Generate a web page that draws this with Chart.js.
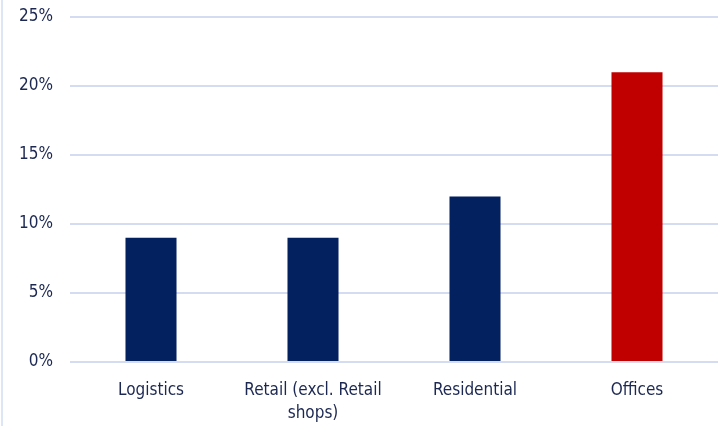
<!DOCTYPE html>
<html>
<head>
<meta charset="utf-8">
<script src="https://cdn.jsdelivr.net/npm/chart.js@4/dist/chart.umd.min.js"></script>
<style>
  html, body { margin: 0; padding: 0; background: #fff; }
  #wrap { position: relative; width: 724px; height: 426px; }
  #edge { position: absolute; left: 1px; top: 0; width: 2px; height: 426px; background: #dde6f4; }
</style>
</head>
<body>
<div id="wrap">
  <div id="edge"></div>
  <canvas id="sectorChart" width="724" height="426"></canvas>
</div>
<script>
var sectors = ['Logistics', ['Retail (excl. Retail', 'shops)'], 'Residential', 'Offices'];
var shares = [9, 9, 12, 21];
var barColors = ['#03215e', '#03215e', '#03215e', '#c00000'];
var yTicks = [0, 5, 10, 15, 20, 25];

var textColor = '#1c2852';
var gridColor = '#d5dbf1';
var labelFont = "'DejaVu Sans Condensed', 'Roboto Condensed', Roboto, sans-serif";

var ctx = document.getElementById('sectorChart').getContext('2d');
var sectorChart = new Chart(ctx, {
  type: 'bar',
  data: {
    labels: sectors,
    datasets: [{
      data: shares,
      backgroundColor: barColors,
      borderWidth: 0,
      categoryPercentage: 1,
      barPercentage: 0.315
    }]
  },
  options: {
    responsive: false,
    animation: false,
    layout: { padding: { left: 4, right: 6, top: 17, bottom: 2 } },
    plugins: { legend: { display: false }, tooltip: { enabled: false } },
    scales: {
      x: {
        afterFit: function (scale) {
          scale.height = 62;
          scale.paddingTop = 0;
          scale.paddingBottom = 0;
        },
        grid: { display: false },
        border: { display: false },
        ticks: {
          color: textColor,
          padding: 9,
          maxRotation: 0,
          font: { family: labelFont, size: 17, lineHeight: 1.35 }
        }
      },
      y: {
        min: 0,
        max: 25,
        afterBuildTicks: function (scale) {
          scale.ticks = yTicks.map(function (v) { return { value: v }; });
        },
        afterFit: function (scale) {
          scale.width = 66;
          scale.paddingTop = 0;
          scale.paddingBottom = 0;
        },
        grid: { color: gridColor, lineWidth: 2, drawTicks: false },
        border: { display: false },
        ticks: {
          color: textColor,
          padding: 17,
          font: { family: labelFont, size: 17 },
          callback: function (v) { return v + '%'; }
        }
      }
    }
  }
});
</script>
</body>
</html>
